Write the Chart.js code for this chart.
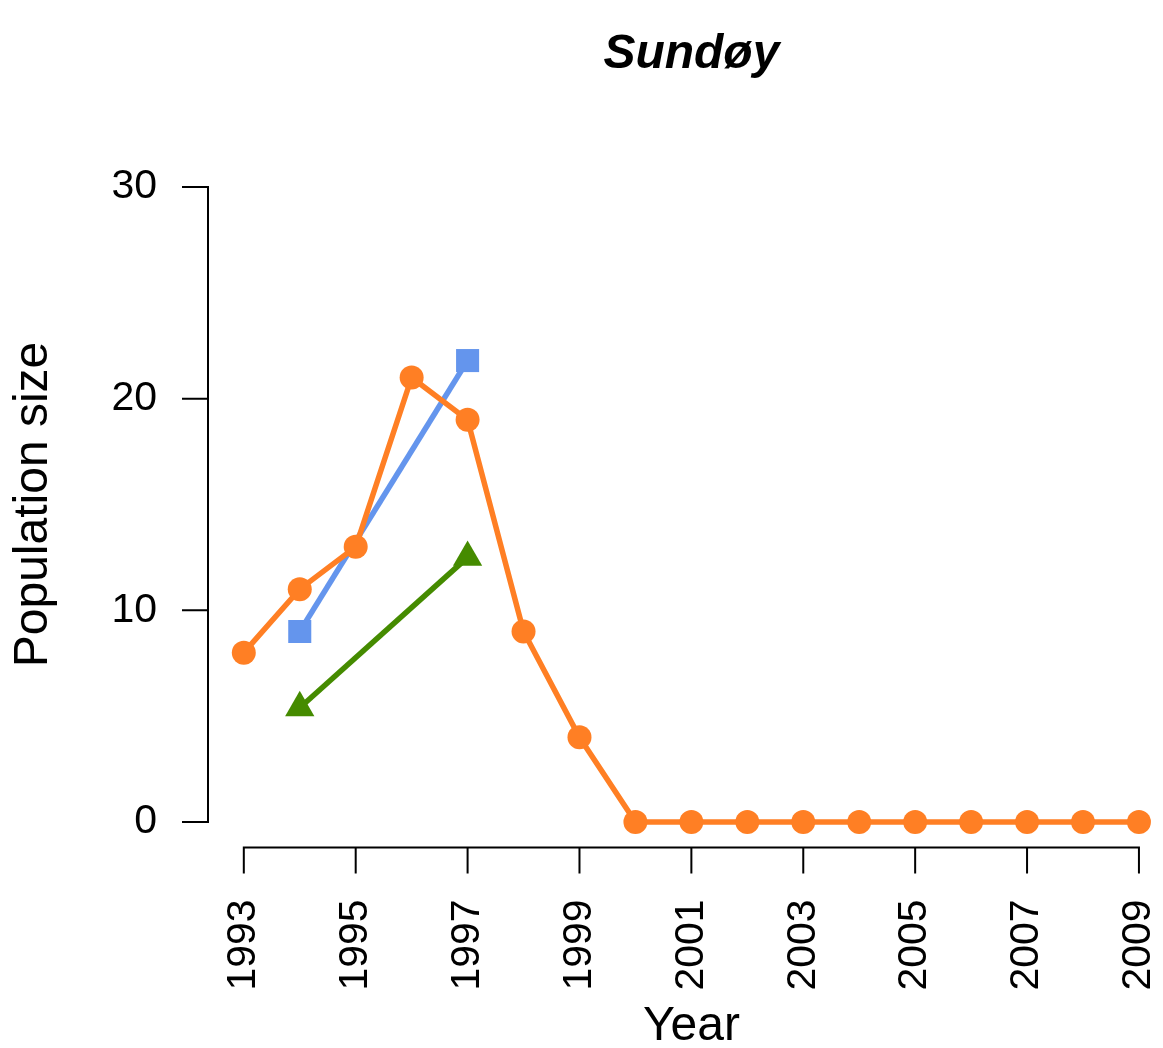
<!DOCTYPE html>
<html>
<head>
<meta charset="utf-8">
<script src="https://cdn.jsdelivr.net/npm/chart.js@4.4.1/dist/chart.umd.min.js"></script>
<style>
  html, body { margin: 0; padding: 0; background: #fff; }
  canvas { display: block; }
</style>
</head>
<body>
<canvas id="sundoy-chart" width="1163" height="1048"></canvas>
<script>
// values
var years = [1993, 1994, 1995, 1996, 1997, 1998, 1999, 2000, 2001, 2002, 2003, 2004, 2005, 2006, 2007, 2008, 2009]
var orangeCount = [8, 11, 13, 21, 19, 9, 4, 0, 0, 0, 0, 0, 0, 0, 0, 0, 0]
var blueYears = [1994, 1997]
var blueCount = [9, 21.8]
var greenYears = [1994, 1997]
var greenCount = [5.4, 12.5]

var xTickYears = [1993, 1995, 1997, 1999, 2001, 2003, 2005, 2007, 2009]
var yTicks = [0, 10, 20, 30]

var chartTitle = "Sundøy"
var xTitle = "Year"
var yTitle = "Population size"

function toPoints(xs, ys) {
  return xs.map((x, i) => ({ x: x, y: ys[i] }))
}

var FONT = '"Liberation Sans", Arial, Helvetica, sans-serif'

// R style axes: detached from the plot region, drawn from the scales
var rAxes = {
  id: "rAxes",
  afterDraw(chart) {
    var ctx = chart.ctx
    var xs = chart.scales.x
    var ys = chart.scales.y
    var left = chart.chartArea.left
    var bottom = chart.chartArea.bottom
    ctx.save()
    ctx.strokeStyle = "#000"
    ctx.fillStyle = "#000"
    ctx.lineWidth = 2
    ctx.lineCap = "square"

    // y axis
    ctx.beginPath()
    ctx.moveTo(left, ys.getPixelForValue(yTicks[0]))
    ctx.lineTo(left, ys.getPixelForValue(yTicks[yTicks.length - 1]))
    yTicks.forEach(v => {
      var py = ys.getPixelForValue(v)
      ctx.moveTo(left, py)
      ctx.lineTo(left - 25, py)
    })
    ctx.stroke()
    ctx.font = "41px " + FONT
    ctx.textAlign = "right"
    ctx.textBaseline = "middle"
    yTicks.forEach(v => ctx.fillText(String(v), left - 51, ys.getPixelForValue(v)))

    // x axis
    ctx.beginPath()
    ctx.moveTo(xs.getPixelForValue(xTickYears[0]), bottom)
    ctx.lineTo(xs.getPixelForValue(xTickYears[xTickYears.length - 1]), bottom)
    xTickYears.forEach(v => {
      var px = xs.getPixelForValue(v)
      ctx.moveTo(px, bottom)
      ctx.lineTo(px, bottom + 25)
    })
    ctx.stroke()
    xTickYears.forEach(v => {
      ctx.save()
      ctx.translate(xs.getPixelForValue(v), bottom + 52)
      ctx.rotate(-Math.PI / 2)
      ctx.textAlign = "right"
      ctx.textBaseline = "middle"
      ctx.fillText(String(v), 0, 0)
      ctx.restore()
    })

    // titles
    var midX = xs.getPixelForValue((xs.min + 2009.64) / 2)
    ctx.font = "48px " + FONT
    ctx.textAlign = "center"
    ctx.textBaseline = "alphabetic"
    ctx.fillText(xTitle, midX, 1040)

    ctx.save()
    ctx.translate(47, ys.getPixelForValue(15))
    ctx.rotate(-Math.PI / 2)
    ctx.fillText(yTitle, 0, 0)
    ctx.restore()

    ctx.font = "italic bold 48px " + FONT
    ctx.fillText(chartTitle, midX, 68)
    ctx.restore()
  }
}

var chart = new Chart(document.getElementById("sundoy-chart"), {
  type: "line",
  data: {
    datasets: [
      {
        label: "orange",
        data: toPoints(years, orangeCount),
        borderColor: "#FF7F24",
        backgroundColor: "#FF7F24",
        borderWidth: 5.5,
        pointStyle: "circle",
        pointRadius: 12,
        pointBorderWidth: 0,
        clip: false
      },
      {
        label: "blue",
        data: toPoints(blueYears, blueCount),
        borderColor: "#6495ED",
        backgroundColor: "#6495ED",
        borderWidth: 5.5,
        pointStyle: "rect",
        pointRadius: 16.3,
        pointBorderWidth: 0,
        clip: false
      },
      {
        label: "green",
        data: toPoints(greenYears, greenCount),
        borderColor: "#458B00",
        backgroundColor: "#458B00",
        borderWidth: 5.5,
        pointStyle: "triangle",
        pointRadius: 16.9,
        pointBorderWidth: 0,
        clip: false
      }
    ]
  },
  options: {
    responsive: false,
    animation: false,
    layout: {
      autoPadding: false,
      padding: { left: 208, right: 0, top: 161.6, bottom: 200.6 }
    },
    scales: {
      x: { type: "linear", min: 1992.36, max: 2009.43, display: false },
      y: { type: "linear", min: -1.2, max: 31.2, display: false }
    },
    plugins: {
      legend: { display: false },
      title: { display: false },
      tooltip: { enabled: false }
    }
  },
  plugins: [rAxes]
});
</script>
</body>
</html>
